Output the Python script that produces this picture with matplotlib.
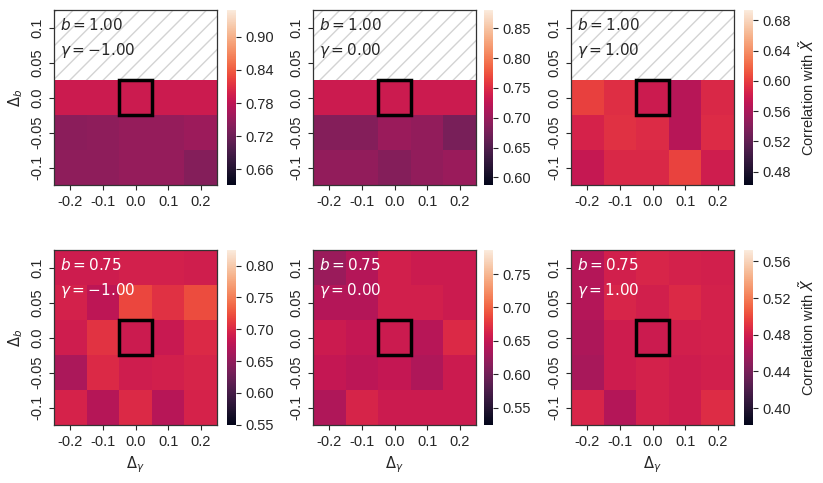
import numpy as np
import matplotlib
matplotlib.use("Agg")
import matplotlib.pyplot as plt
from matplotlib.patches import Rectangle
import seaborn as sns

sns.set_style("ticks")
plt.rcParams['font.family'] = ['Liberation Sans', 'DejaVu Sans']
plt.rcParams['mathtext.fontset'] = 'dejavusans'

# offsets used on the axes
d_gamma = [-0.2, -0.1, 0.0, 0.1, 0.2]
d_b = [0.1, 0.05, 0.0, -0.05, -0.1]   # top to bottom
d_gamma_labels = ["-0.2", "-0.1", "0.0", "0.1", "0.2"]
d_b_labels = ["0.1", "0.05", "0.0", "-0.05", "-0.1"]

# base parameters of each panel
b_vals = [1.00, 1.00, 1.00, 0.75, 0.75, 0.75]
gamma_vals = [-1.00, 0.00, 1.00, -1.00, 0.00, 1.00]

nan = np.nan
# correlation with X~, rows = d_b (top to bottom), cols = d_gamma
corr_b100_gm1 = [[nan, nan, nan, nan, nan],
                 [nan, nan, nan, nan, nan],
                 [0.790, 0.790, 0.790, 0.790, 0.790],
                 [0.742, 0.745, 0.750, 0.750, 0.755],
                 [0.745, 0.745, 0.750, 0.750, 0.737]]
corr_b100_g0 = [[nan, nan, nan, nan, nan],
                [nan, nan, nan, nan, nan],
                [0.734, 0.734, 0.734, 0.734, 0.734],
                [0.685, 0.685, 0.700, 0.695, 0.677],
                [0.695, 0.695, 0.685, 0.695, 0.700]]
corr_b100_g1 = [[nan, nan, nan, nan, nan],
                [nan, nan, nan, nan, nan],
                [0.602, 0.592, 0.578, 0.567, 0.588],
                [0.585, 0.594, 0.590, 0.567, 0.590],
                [0.575, 0.588, 0.588, 0.603, 0.580]]
corr_b075_gm1 = [[0.689, 0.689, 0.693, 0.693, 0.691],
                 [0.694, 0.678, 0.719, 0.706, 0.722],
                 [0.690, 0.707, 0.687, 0.685, 0.700],
                 [0.666, 0.700, 0.690, 0.692, 0.696],
                 [0.695, 0.672, 0.700, 0.674, 0.695]]
corr_b075_g0 = [[0.625, 0.640, 0.660, 0.655, 0.655],
                [0.640, 0.640, 0.660, 0.660, 0.655],
                [0.655, 0.650, 0.655, 0.642, 0.668],
                [0.650, 0.645, 0.650, 0.637, 0.655],
                [0.637, 0.664, 0.655, 0.655, 0.655]]
corr_b075_g1 = [[0.466, 0.480, 0.484, 0.482, 0.480],
                [0.466, 0.484, 0.480, 0.486, 0.482],
                [0.463, 0.478, 0.477, 0.480, 0.482],
                [0.461, 0.478, 0.482, 0.478, 0.480],
                [0.484, 0.466, 0.482, 0.478, 0.488]]

panels = [corr_b100_gm1, corr_b100_g0, corr_b100_g1,
          corr_b075_gm1, corr_b075_g0, corr_b075_g1]

cbar_ticks = [[0.66, 0.72, 0.78, 0.84, 0.90],
              [0.60, 0.65, 0.70, 0.75, 0.80, 0.85],
              [0.48, 0.52, 0.56, 0.60, 0.64, 0.68],
              [0.55, 0.60, 0.65, 0.70, 0.75, 0.80],
              [0.55, 0.60, 0.65, 0.70, 0.75],
              [0.40, 0.44, 0.48, 0.52, 0.56]]

W, H = 823, 483
fig = plt.figure(figsize=(W / 100, H / 100), dpi=100)

ax_x = [54, 313, 571]
cb_x = [227, 484, 744]
row_y = [10, 250]
ax_w, ax_h, cb_w = 163, 175, 9

for k, data in enumerate(panels):
    r, c = divmod(k, 3)
    arr = np.array(data)
    center = arr[2, 2]
    y0 = row_y[r]
    ax = fig.add_axes([ax_x[c] / W, 1 - (y0 + ax_h) / H, ax_w / W, ax_h / H])
    cax = fig.add_axes([cb_x[c] / W, 1 - (y0 + ax_h) / H, cb_w / W, ax_h / H])

    sns.heatmap(arr, ax=ax, cbar_ax=cax, cmap="rocket",
                vmin=0.8 * center, vmax=1.2 * center,
                xticklabels=d_gamma_labels, yticklabels=d_b_labels,
                cbar_kws={"ticks": cbar_ticks[k]})

    # hatched background where no value
    ax.patch.set_facecolor("white")
    ax.patch.set_hatch("//")
    ax.patch.set_edgecolor("lightgray")

    for s in ax.spines.values():
        s.set_visible(True)
        s.set_color("0.2")
        s.set_linewidth(0.9)

    ax.add_patch(Rectangle((2, 2), 1, 1, fill=False, edgecolor="black", lw=2.5, zorder=5))

    ax.tick_params(axis="both", labelsize=10.5, length=3.5, width=0.8)
    ax.set_xticklabels(d_gamma_labels, rotation=0)
    ax.set_yticklabels(d_b_labels, rotation=90, va="center")
    cax.tick_params(labelsize=10.5, length=3.5, width=0.8)
    cax.set_yticklabels(["%.2f" % t for t in cbar_ticks[k]])

    txt_color = "0.15" if r == 0 else "white"
    ax.text(0.035, 0.96, "$b=%.2f$\n$\\gamma=%.2f$" % (b_vals[k], gamma_vals[k]),
            transform=ax.transAxes, ha="left", va="top", fontsize=11,
            color=txt_color, linespacing=1.55)

    if c == 0:
        ax.set_ylabel(r"$\Delta_b$", fontsize=10.5)
    if r == 1:
        ax.set_xlabel(r"$\Delta_\gamma$", fontsize=10.5)
    if c == 2:
        cax.set_ylabel(r"Correlation with $\tilde{X}$", fontsize=10.5)

fig.savefig("out.png", dpi=100)
